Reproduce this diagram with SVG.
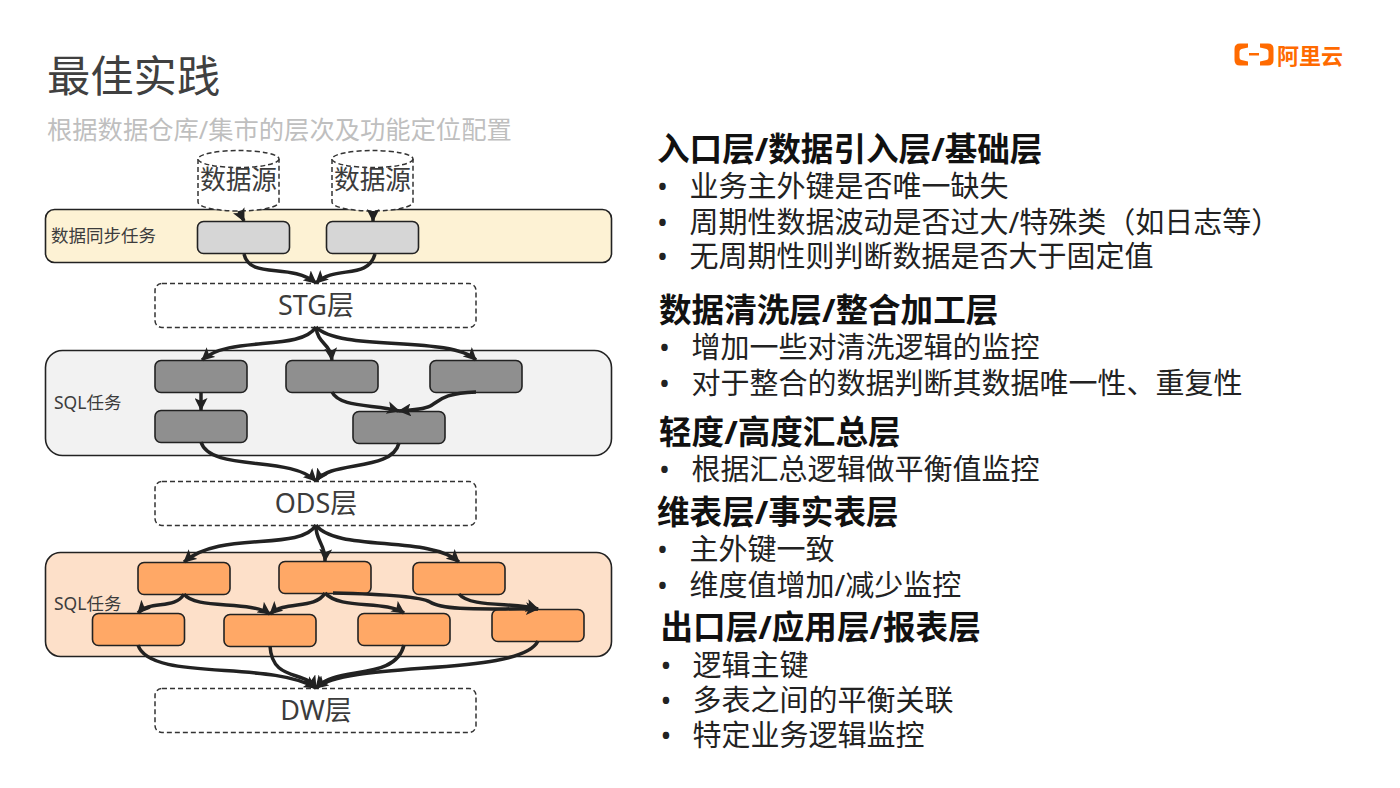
<svg xmlns="http://www.w3.org/2000/svg" width="1400" height="788" viewBox="0 0 1400 788">
<style>
text{font-family:"Noto Sans","Noto Sans CJK SC","Liberation Sans",sans-serif}
.band{stroke:#222;stroke-width:1.6}
.task{stroke:#222;stroke-width:1.6}
.dash{fill:#fff;stroke:#333;stroke-width:1.5;stroke-dasharray:5 3}
.layer{font-size:27px;fill:#3c3c3c;text-anchor:middle}
.src{font-size:25.7px;fill:#3c3c3c;text-anchor:middle}
.side{font-size:17.500px;fill:#3c3c3c}
.h{font-size:32.600px;font-weight:700;fill:#111}
.b{font-size:29px;fill:#222}
.c{fill:none;stroke:#222;stroke-width:3.500;marker-end:url(#ah)}
</style>
<defs>
<marker id="ah" markerUnits="userSpaceOnUse" markerWidth="14" markerHeight="13" refX="12" refY="6.500" orient="auto"><path d="M0 0L13 6.500L0 13L3 6.500Z" fill="#222"/></marker>
</defs>
<rect width="1400" height="788" fill="#fff"/>
<text id="title" x="47" y="92" font-size="43.300" fill="#404040">最佳实践</text>
<text id="subtitle" x="47" y="139" font-size="25.300" fill="#bfbfbf">根据数据仓库/集市的层次及功能定位配置</text>
<g id="logo" fill="#ff6a00">
<path d="M1248 43.500H1240Q1234.500 43.500 1234.500 49V60Q1234.500 65.500 1240 65.500H1248V61.500L1241.500 60Q1239.500 59.500 1239.500 57.500V51.500Q1239.500 49.500 1241.500 49L1248 47.500Z"/>
<path d="M1260 43.500H1268Q1273.500 43.500 1273.500 49V60Q1273.500 65.500 1268 65.500H1260V61.500L1266.500 60Q1268.500 59.500 1268.500 57.500V51.500Q1268.500 49.500 1266.500 49L1260 47.500Z"/>
<rect x="1249" y="53" width="10" height="2.500"/>
<text x="1277" y="63.500" font-size="22" font-weight="700">阿里云</text>
</g>
<g id="band-sync"><rect class="band" x="45.500" y="209.500" width="566" height="53" rx="9" fill="#fdf2d4"/><text class="side" x="51" y="242">数据同步任务</text></g>
<g id="band-sql-1"><rect class="band" x="45.500" y="350.500" width="566" height="105" rx="17" fill="#f2f2f2"/><text class="side" x="54" y="409">SQL任务</text></g>
<g id="band-sql-2"><rect class="band" x="45.500" y="552.500" width="566" height="104" rx="15" fill="#fde0c9"/><text class="side" x="54" y="610">SQL任务</text></g>
<g id="source-1"><path class="dash" d="M198 159V202C198 207 216 211 238.500 211S279 207 279 202V159"/><ellipse class="dash" cx="238.500" cy="159" rx="40.500" ry="8.500"/><text class="src" x="238.500" y="189">数据源</text></g>
<g id="source-2"><path class="dash" d="M332 159V202C332 207 350 211 372.500 211S413 207 413 202V159"/><ellipse class="dash" cx="372.500" cy="159" rx="40.500" ry="8.500"/><text class="src" x="372.500" y="189">数据源</text></g>
<g id="stg"><rect class="dash" x="155" y="283.500" width="321" height="44" rx="7"/><text class="layer" x="316" y="315">STG层</text></g>
<g id="ods"><rect class="dash" x="155" y="481.500" width="321" height="44" rx="7"/><text class="layer" x="316" y="513">ODS层</text></g>
<g id="dw"><rect class="dash" x="155" y="688.500" width="321" height="44" rx="7"/><text class="layer" x="316" y="720">DW层</text></g>
<g id="sync-tasks" fill="#d6d6d6">
<rect id="sync-a" class="task" x="197.500" y="221.500" width="92" height="32" rx="6"/>
<rect id="sync-b" class="task" x="326.500" y="221.500" width="92" height="32" rx="6"/>
</g>
<g id="sql-tasks" fill="#8f8f8f">
<rect id="sql-a" class="task" x="155" y="360.500" width="92" height="32" rx="6"/>
<rect id="sql-b" class="task" x="286" y="360.500" width="92" height="32" rx="6"/>
<rect id="sql-c" class="task" x="430" y="360.500" width="92" height="32" rx="6"/>
<rect id="sql-d" class="task" x="155" y="410.500" width="92" height="32" rx="6"/>
<rect id="sql-e" class="task" x="353" y="411.500" width="92" height="32" rx="6"/>
</g>
<g id="mart-tasks" fill="#ffa866">
<rect id="mart-a" class="task" x="138" y="562.500" width="92" height="32" rx="6"/>
<rect id="mart-b" class="task" x="279" y="561.500" width="92" height="32" rx="6"/>
<rect id="mart-c" class="task" x="413" y="562.500" width="92" height="32" rx="6"/>
<rect id="mart-d" class="task" x="92.500" y="613.500" width="92" height="32" rx="6"/>
<rect id="mart-e" class="task" x="224" y="614.500" width="92" height="32" rx="6"/>
<rect id="mart-f" class="task" x="358" y="613.500" width="92" height="32" rx="6"/>
<rect id="mart-g" class="task" x="492" y="609.500" width="92" height="32" rx="6"/>
</g>
<g id="connectors">
<path class="c" d="M239 211C240 214 242 217 244 221"/>
<path class="c" d="M373 211V221"/>
<path class="c" d="M244 254C250 280 290 262 316 283"/>
<path class="c" d="M375 254C368 280 335 265 316 283"/>
<path class="c" d="M316 327C300 352 230 335 202 360"/>
<path class="c" d="M316 327C318 345 330 342 332 360"/>
<path class="c" d="M316 327C340 352 450 335 476 360"/>
<path class="c" d="M201 392V410"/>
<path class="c" d="M332 392C340 408 375 404 399 411"/>
<path class="c" d="M476 392C445 393 440 400 432 405C425 410 410 410 399 411"/>
<path class="c" d="M201 442C210 472 290 455 316 481"/>
<path class="c" d="M399 443C392 472 330 460 316 481"/>
<path class="c" d="M316 525C300 552 220 530 184 562"/>
<path class="c" d="M316 525C315 540 326 545 325 561"/>
<path class="c" d="M316 525C335 552 430 535 459 562"/>
<path class="c" d="M184 594C175 610 150 600 138 613"/>
<path class="c" d="M184 594C195 610 250 600 270 614"/>
<path class="c" d="M325 593C315 610 285 600 270 614"/>
<path class="c" d="M325 593C340 610 385 600 404 613"/>
<path class="c" d="M333 593C380 594 420 596 430 602C445 612 500 608 538 609"/>
<path class="c" d="M459 594C470 608 515 602 538 609"/>
<path class="c" d="M138 645C150 682 270 660 316 688"/>
<path class="c" d="M270 646C272 682 305 670 316 688"/>
<path class="c" d="M404 645C395 682 335 665 316 688"/>
<path class="c" d="M538 641C520 677 350 660 316 688"/>
</g>
<g id="notes">
<text class="h" x="657" y="161">入口层/数据引入层/基础层</text>
<text class="b" x="657" y="197">•</text><text class="b" x="689.500" y="197">业务主外键是否唯一缺失</text>
<text class="b" x="657" y="233">•</text><text class="b" x="689.500" y="233">周期性数据波动是否过大/特殊类（如日志等）</text>
<text class="b" x="657" y="267">•</text><text class="b" x="689.500" y="267">无周期性则判断数据是否大于固定值</text>
<text class="h" x="659" y="322">数据清洗层/整合加工层</text>
<text class="b" x="659" y="358">•</text><text class="b" x="691.500" y="358">增加一些对清洗逻辑的监控</text>
<text class="b" x="659" y="394">•</text><text class="b" x="691.500" y="394">对于整合的数据判断其数据唯一性、重复性</text>
<text class="h" x="659" y="444">轻度/高度汇总层</text>
<text class="b" x="659" y="480">•</text><text class="b" x="691.500" y="480">根据汇总逻辑做平衡值监控</text>
<text class="h" x="657" y="524">维表层/事实表层</text>
<text class="b" x="657" y="560">•</text><text class="b" x="689.500" y="560">主外键一致</text>
<text class="b" x="657" y="596">•</text><text class="b" x="689.500" y="596">维度值增加/减少监控</text>
<text class="h" x="660.500" y="639">出口层/应用层/报表层</text>
<text class="b" x="660.500" y="676">•</text><text class="b" x="692.500" y="676">逻辑主键</text>
<text class="b" x="660.500" y="711">•</text><text class="b" x="692.500" y="711">多表之间的平衡关联</text>
<text class="b" x="660.500" y="746">•</text><text class="b" x="692.500" y="746">特定业务逻辑监控</text>
</g>
</svg>
